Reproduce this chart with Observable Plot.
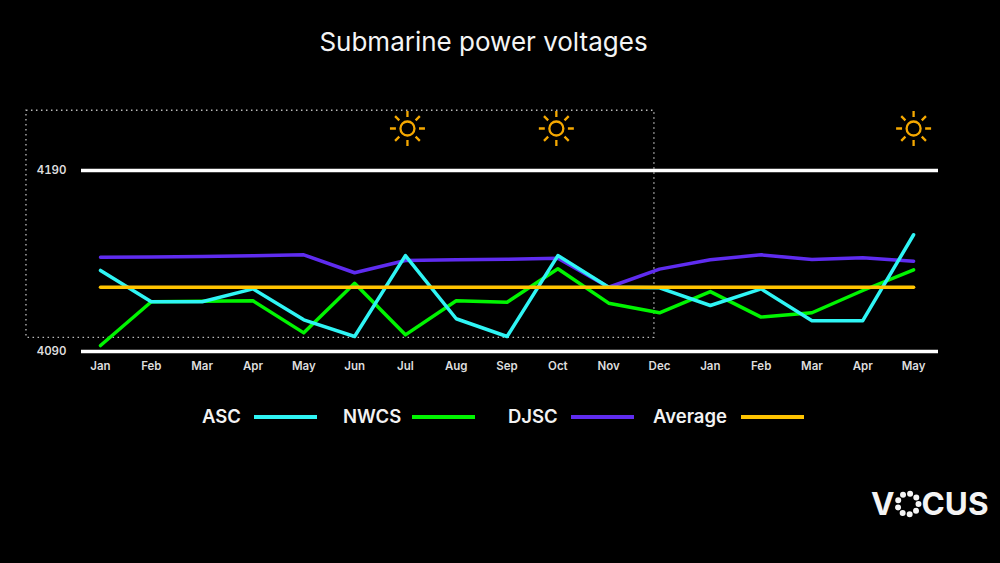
<!DOCTYPE html>
<html>
<head>
<meta charset="utf-8">
<script src="https://cdn.jsdelivr.net/npm/d3@7"></script>
<script src="https://cdn.jsdelivr.net/npm/@observablehq/plot@0.6"></script>
<style>
  html, body { margin: 0; background: #000; }
  body { width: 1000px; height: 563px; overflow: hidden; position: relative; font-family: Inter, sans-serif; color: #fff; }
  #title { position: absolute; top: 26px; left: 0; width: 967px; text-align: center; font-size: 26px; line-height: 32px; color: #f4f4f4; }
  #chart { position: absolute; top: 100px; left: 0; }
  #chart svg { display: block; }
  #legend span { position: absolute; top: 405px; font-size: 18.5px; line-height: 22px; font-weight: 600; color: #f2f2f2; }
  #legend i { position: absolute; top: 415px; width: 63px; height: 3.5px; }
  #logo { position: absolute; left: 871px; top: 484px; font-size: 31.5px; line-height: 40px; font-weight: 700; display: flex; align-items: center; color: #f4f4f4; }
  #logo svg { margin: 0 0 0 -1px; }
</style>
</head>
<body>
<div id="title">Submarine power voltages</div>
<div id="chart"></div>
<div id="legend"></div>
<div id="logo" aria-label="VOCUS">V<svg width="28" height="28" viewBox="0 0 28 28"><circle cx="14" cy="14" r="10.5" fill="none" stroke="#f4f4f4" stroke-width="6" stroke-linecap="round" stroke-dasharray="0 7.33"/></svg>CUS</div>
<script>
const months = ['Jan', 'Feb', 'Mar', 'Apr', 'May', 'Jun', 'Jul', 'Aug', 'Sep', 'Oct', 'Nov', 'Dec', 'Jan', 'Feb', 'Mar', 'Apr', 'May']
const asc = [4134.8, 4117.5, 4117.5, 4124.6, 4107.5, 4098.3, 4143, 4108.1, 4098.3, 4143, 4125.5, 4125.2, 4115.4, 4124.6, 4107, 4107, 4154.5]
const nwcs = [4093.3, 4117.5, 4117.8, 4118, 4100.3, 4127.7, 4099.2, 4118, 4117.2, 4135.7, 4116.7, 4111.4, 4123.1, 4109, 4111.4, 4123.7, 4135.1]
const djsc = [4142.1, 4142.2, 4142.5, 4142.9, 4143.4, 4133.5, 4140.3, 4140.7, 4141, 4141.5, 4125.5, 4135.5, 4140.7, 4143.4, 4140.8, 4141.8, 4139.9]
const average = 4125.5
const gridLines = [4090, 4190]
const sunMonths = [6.04, 8.97, 16]
const sunLevel = 4213.2

const seriesNames = ['DJSC', 'NWCS', 'ASC', 'Average']
const seriesColors = ['#5f2cf0', '#00f500', '#2ff5f5', '#ffc400']
const seriesValues = [djsc, nwcs, asc, months.map(() => average)]

// sun icon as a custom dot symbol, ring and 8 rays
const sun = {
  draw(ctx, size) {
    const r = Math.sqrt(size / Math.PI)
    const ring = r * 0.4
    ctx.moveTo(ring, 0)
    ctx.arc(0, 0, ring, 0, 2 * Math.PI)
    for (let i = 0; i < 8; i++) {
      const a = i * Math.PI / 4
      ctx.moveTo(Math.cos(a) * r * 0.66, Math.sin(a) * r * 0.66)
      ctx.lineTo(Math.cos(a) * r, Math.sin(a) * r)
    }
  }
}

const chart = Plot.plot({
  width: 1000,
  height: 280,
  marginLeft: 81,
  marginRight: 62,
  marginTop: 70,
  marginBottom: 29,
  style: { background: '#000', fontFamily: 'Inter, sans-serif', fontSize: '11.5px', overflow: 'visible' },
  x: { domain: [-0.374, 16.49] },
  y: { domain: [4090, 4190] },
  marks: [
    Plot.ruleY(gridLines, { stroke: '#fff', strokeWidth: 3.5 }),
    Plot.rect([{ x1: -1.457, x2: 10.9, y1: 4097.5, y2: 4223 }], {
      x1: 'x1', x2: 'x2', y1: 'y1', y2: 'y2',
      fill: 'none', stroke: '#bbb', strokeWidth: 1.3, strokeDasharray: '1.5 3.5'
    }),
    ...seriesValues.map((values, s) => Plot.line(values, {
      x: (d, i) => i,
      y: d => d,
      stroke: seriesColors[s],
      strokeWidth: 3.5,
      curve: 'linear'
    })),
    Plot.dot(sunMonths, {
      x: d => d,
      y: () => sunLevel,
      r: 17.5,
      symbol: sun,
      stroke: '#f5a800',
      strokeWidth: 2.3,
      fill: 'none'
    }),
    Plot.axisX({ ticks: months.map((d, i) => i), tickFormat: i => months[i], tickSize: 0, tickPadding: 10, label: null, color: '#ddd', fontWeight: 600 }),
    Plot.axisY({ ticks: gridLines, tickFormat: d => String(d), tickSize: 0, tickPadding: 15, label: null, color: '#ddd', fontWeight: 600 })
  ]
})
d3.select('#chart').append(() => chart)

// legend, left to right
const legendOrder = ['ASC', 'NWCS', 'DJSC', 'Average']
const legendText = [202, 343, 508, 653]
const legendLine = [254, 412, 571, 741]
const legend = d3.select('#legend')
legendOrder.forEach((name, i) => {
  legend.append('span').style('left', legendText[i] + 'px').text(name)
  legend.append('i').style('left', legendLine[i] + 'px').style('background', seriesColors[seriesNames.indexOf(name)])
})
</script>
</body>
</html>
